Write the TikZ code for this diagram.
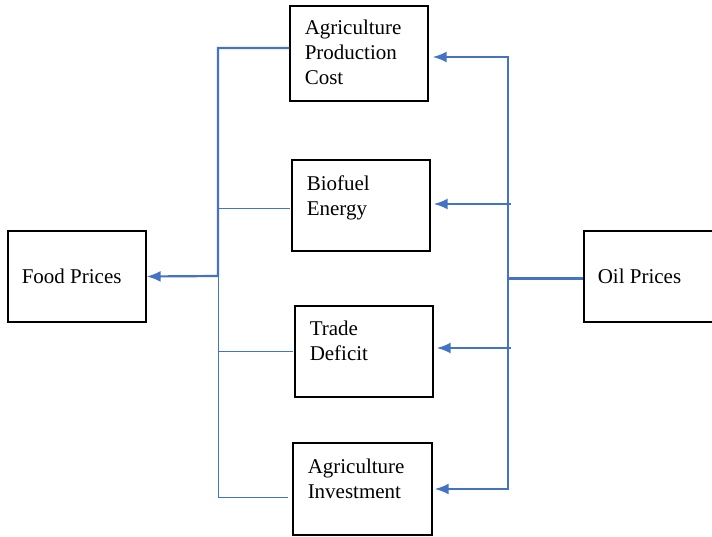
\documentclass[tikz,border=0pt]{standalone}
\usepackage{fontspec}
\setmainfont{Liberation Serif}
\usetikzlibrary{arrows.meta, positioning}

\definecolor{linkblue}{RGB}{68,114,196}

\begin{document}
\begin{tikzpicture}[x=1pt,y=-1pt,>={Latex[length=14pt,width=11pt]},
                    thick]
  \tikzstyle{factor}=[draw=black,line width=1.3pt,minimum width=138pt,minimum height=91pt,inner sep=0pt]
  \tikzstyle{words}=[inner sep=0pt,align=left,font=\fontsize{21}{25}\selectfont]
  \tikzstyle{feed}=[draw=linkblue,line width=2.2pt]
  \tikzstyle{thinfeed}=[draw=linkblue,line width=0.9pt]

  \useasboundingbox (0,0) rectangle (712,537);

  % boxes
  \node[factor,minimum height=95pt] (APC) at (359,53.5) {};
  \node[factor] (BIO) at (361,205.5) {};
  \node[factor] (TD) at (364,351.5) {};
  \node[factor,minimum width=139pt,minimum height=92pt] (AI) at (362.5,489) {};
  \node[factor] (FP) at (77,276.5) {};
  \node[factor] (OP) at (653,276.5) {};

  % texts
  \node[words,anchor=north west] (APCt) at ([xshift=15pt,yshift=-14pt]APC.north west) {Agriculture\\Production\\Cost};
  \node[words,anchor=north west] (BIOt) at ([xshift=15pt,yshift=-16pt]BIO.north west) {Biofuel\\Energy};
  \node[words,anchor=north west] (TDt) at ([xshift=15pt,yshift=-15pt]TD.north west) {Trade\\Deficit};
  \node[words,anchor=north west] (AIt) at ([xshift=15pt,yshift=-16pt]AI.north west) {Agriculture\\Investment};
  \node[words,anchor=west] (FPt) at ([xshift=14pt]FP.west) {Food Prices};
  \node[words,anchor=west] (OPt) at ([xshift=14pt]OP.west) {Oil Prices};

  % left side, into food prices
  \coordinate (LB) at (218,276);
  \draw[feed,->] (APC.west |- 0,48) -- (218,48) -- (LB) -- (FP.east);
  \draw[thinfeed] (LB) -- (218,497) -- (288,497);
  \draw[thinfeed] (218,208) -- (290,208);
  \draw[thinfeed] (218,351) -- (293,351);

  % right side, from oil prices
  \coordinate (RB) at (508,279);
  \draw[feed,line width=3pt] (OP.west |- RB) -- (RB);
  \draw[feed,->] (RB) -- (508,57) -- ([xshift=4pt]APC.east |- 0,57);
  \draw[feed,->] (RB) -- (508,489) -- ([xshift=2pt]AI.east |- 0,489);
  \draw[feed,->] (511,204) -- ([xshift=3pt]BIO.east |- 0,204);
  \draw[feed,->] (511,348) -- ([xshift=3pt]TD.east |- 0,348);
\end{tikzpicture}
\end{document}
